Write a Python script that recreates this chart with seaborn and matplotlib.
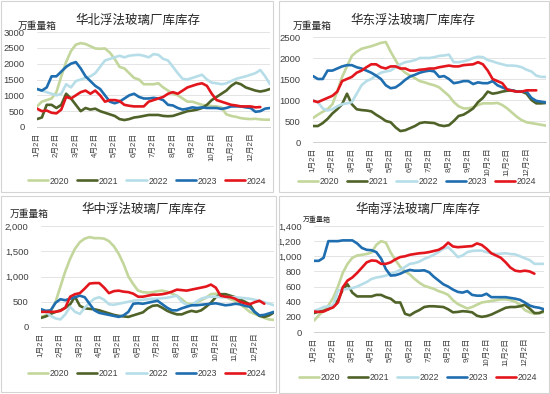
import numpy as np
import pandas as pd
import seaborn as sns
import matplotlib.pyplot as plt
from matplotlib.patches import Rectangle
from matplotlib.ticker import FuncFormatter, MultipleLocator

years = ['2020', '2021', '2022', '2023', '2024']
month_labels = ['{}月2日'.format(i) for i in range(1, 13)]
# readings every quarter month starting at 1月2日 (万重量箱)
steps = np.arange(49) * 0.25

north_2020 = [650, 800, 850, 900, 1100, 1600, 2050, 2400, 2600, 2650, 2620, 2550, 2480, 2470, 2480, 2350,
              2150, 1900, 1850, 1700, 1550, 1500, 1350, 1350, 1350, 1380, 1250, 1150, 1050, 1000, 900, 800,
              800, 750, 700, 680, 660, 650, 620, 400, 350, 320, 280, 260, 250, 260, 240, 230, 230]
north_2021 = [250, 300, 700, 700, 600, 700, 1050, 900, 700, 500, 600, 550, 580, 500, 450, 400,
              350, 250, 220, 250, 300, 320, 350, 380, 380, 380, 350, 340, 350, 400, 450, 500,
              520, 550, 600, 700, 850, 950, 1050, 1150, 1300, 1400, 1350, 1250, 1200, 1150, 1120, 1150, 1200]
north_2022 = [1200, 1150, 1100, 1050, 1000, 1050, 1350, 1250, 1450, 1500, 1550, 1600, 1700, 1900, 2100, 2150,
              2200, 2250, 2200, 2250, 2270, 2280, 2250, 2200, 2300, 2280, 2150, 2100, 1900, 1700, 1520, 1500,
              1550, 1600, 1650, 1500, 1400, 1380, 1350, 1380, 1450, 1520, 1560, 1600, 1650, 1700, 1800, 1600, 1350]
north_2023 = [1200, 1150, 1250, 1600, 1600, 1750, 1900, 2000, 2050, 1850, 1600, 1450, 1300, 1200, 1000, 800,
              750, 800, 900, 1000, 1050, 950, 900, 900, 920, 900, 850, 700, 680, 600, 550, 580,
              620, 600, 620, 600, 600, 600, 570, 600, 650, 650, 650, 620, 600, 480, 500, 580, 600]
north_2024 = [580, 500, 520, 450, 430, 550, 950, 900, 1000, 1100, 1150, 1050, 1150, 1000, 800, 850,
              850, 820, 700, 670, 650, 650, 650, 800, 850, 900, 950, 1050, 1100, 1050, 1150, 1250,
              1300, 1350, 1380, 1300, 1050, 850, 800, 750, 700, 680, 650, 650, 650, 620, 630]

east_2020 = [570, 650, 720, 780, 900, 1200, 1550, 1800, 2050, 2150, 2220, 2250, 2280, 2320, 2360, 2380,
             2150, 1950, 1750, 1650, 1580, 1520, 1450, 1420, 1380, 1350, 1300, 1200, 1100, 950, 850, 800,
             800, 830, 880, 920, 920, 920, 930, 880, 800, 700, 600, 520, 470, 450, 430, 410, 390]
east_2021 = [380, 380, 450, 550, 680, 780, 900, 1150, 900, 780, 760, 750, 730, 650, 580, 500,
             470, 350, 260, 280, 330, 380, 450, 470, 460, 450, 400, 380, 400, 500, 620, 650,
             720, 800, 950, 1050, 1200, 1150, 1170, 1200, 1220, 1230, 1200, 1200, 1150, 1000, 920, 920, 930]
east_2022 = [1000, 950, 800, 750, 780, 850, 900, 920, 950, 1150, 1350, 1450, 1500, 1580, 1650, 1680,
             1700, 1780, 1850, 1900, 1920, 1950, 2000, 2000, 2000, 2020, 2050, 2060, 2080, 1900, 1900, 1920,
             1950, 2000, 2030, 2020, 1950, 1920, 1880, 1850, 1820, 1820, 1810, 1780, 1720, 1680, 1580, 1550, 1550]
east_2023 = [1570, 1500, 1500, 1700, 1700, 1750, 1800, 1830, 1830, 1780, 1750, 1700, 1650, 1580, 1500, 1350,
             1280, 1300, 1380, 1480, 1560, 1600, 1650, 1680, 1700, 1680, 1550, 1570, 1500, 1400, 1420, 1450,
             1450, 1380, 1420, 1400, 1400, 1450, 1350, 1300, 1250, 1230, 1200, 1200, 1200, 1050, 980, 960, 940]
east_2024 = [980, 950, 1000, 1050, 1100, 1200, 1450, 1500, 1550, 1650, 1700, 1780, 1850, 1850, 1780, 1750,
             1800, 1800, 1750, 1750, 1700, 1700, 1720, 1730, 1750, 1750, 1780, 1800, 1820, 1800, 1800, 1830,
             1840, 1850, 1900, 1850, 1700, 1500, 1450, 1400, 1250, 1220, 1200, 1200, 1230, 1230, 1230]

central_2020 = [200, 230, 300, 500, 800, 1100, 1350, 1550, 1680, 1750, 1780, 1760, 1760, 1750, 1700, 1600,
                1450, 1250, 1000, 850, 720, 690, 680, 690, 710, 720, 700, 660, 620, 550, 470, 450,
                480, 530, 580, 650, 660, 640, 600, 550, 520, 450, 380, 300, 260, 220, 180, 150, 140]
central_2021 = [180, 210, 260, 300, 330, 380, 450, 600, 420, 370, 360, 350, 330, 300, 270, 240,
                220, 210, 200, 230, 260, 290, 370, 420, 430, 380, 320, 280, 250, 250, 290, 320,
                300, 330, 400, 480, 590, 650, 650, 620, 590, 550, 500, 450, 300, 220, 200, 230, 290]
central_2022 = [360, 300, 220, 170, 150, 250, 400, 300, 260, 380, 480, 560, 590, 540, 450, 440,
                460, 480, 500, 520, 530, 540, 550, 560, 560, 570, 580, 600, 620, 500, 440, 430,
                500, 560, 590, 600, 600, 590, 590, 590, 590, 580, 570, 560, 540, 520, 490, 460, 430]
central_2023 = [350, 320, 330, 480, 550, 530, 560, 590, 620, 590, 460, 330, 280, 260, 240, 220,
                200, 230, 300, 460, 470, 460, 480, 500, 520, 450, 380, 330, 330, 370, 400, 430,
                430, 440, 450, 460, 470, 450, 430, 440, 460, 450, 420, 400, 300, 230, 240, 270, 300]
central_2024 = [300, 300, 300, 300, 320, 380, 600, 650, 670, 760, 860, 870, 870, 780, 670, 710,
                720, 700, 690, 660, 600, 600, 620, 640, 640, 650, 670, 700, 740, 730, 720, 740,
                760, 780, 800, 840, 780, 620, 600, 590, 560, 500, 470, 450, 490, 520, 460]

south_2020 = [150, 220, 280, 350, 450, 600, 780, 900, 980, 1010, 1020, 1030, 1050, 1150, 1200, 1180,
              1050, 950, 860, 800, 760, 700, 650, 610, 590, 570, 540, 520, 490, 420, 370, 340,
              310, 330, 360, 390, 400, 410, 420, 430, 430, 420, 400, 360, 290, 260, 240, 250, 260]
south_2021 = [250, 270, 280, 300, 350, 420, 560, 630, 520, 470, 470, 470, 470, 490, 490, 460,
              440, 390, 390, 240, 220, 260, 290, 330, 340, 340, 335, 330, 300, 260, 265, 275,
              270, 260, 215, 200, 210, 230, 260, 290, 320, 330, 330, 340, 360, 310, 250, 250, 280]
south_2022 = [280, 300, 330, 340, 350, 550, 560, 570, 580, 600, 630, 660, 700, 720, 730, 745,
              770, 790, 820, 860, 900, 910, 930, 965, 990, 1020, 1055, 1100, 1120, 1060, 990, 1010,
              1055, 1070, 1075, 1075, 1055, 1040, 1030, 1035, 1040, 1030, 1025, 1000, 975, 950, 900, 900, 900]
south_2023 = [940, 940, 980, 1200, 1200, 1200, 1210, 1210, 1210, 1170, 1110, 1085, 1080, 1055, 970, 830,
              745, 750, 770, 800, 820, 810, 810, 815, 790, 730, 680, 630, 600, 560, 530, 520,
              540, 490, 480, 480, 505, 460, 460, 460, 460, 450, 440, 425, 390, 350, 330, 320, 300]
south_2024 = [270, 265, 270, 300, 325, 390, 590, 680, 720, 780, 850, 920, 945, 940, 900, 900,
              920, 960, 990, 1000, 1020, 1030, 1040, 1045, 1055, 1070, 1085, 1120, 1180, 1130, 1120, 1125,
              1130, 1135, 1170, 1150, 1100, 1040, 1010, 980, 920, 850, 810, 800, 810, 800, 770]

colors = {'2020': '#c3d69b', '2021': '#4f6228', '2022': '#b7dee8', '2023': '#1f6eb0', '2024': '#e3161d'}

W, H = 550, 394


def fx(x):
    return x / W


def fy(y):
    return 1 - y / H


def make_frame(series):
    parts = []
    for yr, vals in zip(years, series):
        parts.append(pd.DataFrame({'month': steps[:len(vals)], 'value': vals, 'year': yr}))
    return pd.concat(parts, ignore_index=True)


def draw_panel(fig, box, axbox, title, title_xy, unit_xy, unit_size, series, ymax, ystep, comma, legend_xy):
    fig.patches.append(Rectangle((fx(box[0]), fy(box[3])), fx(box[2] - box[0]), (box[3] - box[1]) / H,
                                 transform=fig.transFigure, fill=False, edgecolor='#d4d4d4', linewidth=0.8))
    left, top, right, bottom = axbox
    ax = fig.add_axes([fx(left), fy(bottom), fx(right - left), (bottom - top) / H])
    df = make_frame(series)
    sns.lineplot(data=df, x='month', y='value', hue='year', hue_order=years, palette=colors,
                 linewidth=1.9, ax=ax, sort=False)
    handles, labels = ax.get_legend_handles_labels()
    ax.get_legend().remove()
    ax.set_xlim(0, 12)
    ax.set_ylim(0, ymax)
    ax.yaxis.set_major_locator(MultipleLocator(ystep))
    if comma:
        ax.yaxis.set_major_formatter(FuncFormatter(lambda v, p: '{:,.0f}'.format(v)))
    else:
        ax.yaxis.set_major_formatter(FuncFormatter(lambda v, p: '{:.0f}'.format(v)))
    ax.set_xticks(range(12))
    ax.set_xticklabels(month_labels, rotation=90)
    ax.tick_params(axis='x', length=2, width=0.6, color='#d0d0d0', pad=2, labelsize=5.6, labelcolor='#404040')
    ax.tick_params(axis='y', length=0, pad=9, labelsize=6.8, colors='#404040')
    ax.set_xlabel('')
    ax.set_ylabel('')
    for side in ['top', 'right', 'left']:
        ax.spines[side].set_visible(False)
    ax.spines['bottom'].set_color('#d0d0d0')
    ax.spines['bottom'].set_linewidth(0.7)
    ax.grid(axis='y', color='#e4e4e4', linewidth=0.7)
    ax.grid(axis='x', visible=False)
    ax.set_axisbelow(True)
    ax.patch.set_alpha(0)
    fig.text(fx(title_xy[0]), fy(title_xy[1]), title, ha='center', va='center', fontsize=9,
             color='#262626', family=['Noto Sans CJK SC', 'DejaVu Sans'])
    fig.text(fx(unit_xy[0]), fy(unit_xy[1]), '万重量箱', ha='left', va='center', fontsize=unit_size,
             color='#262626', family=['Noto Sans CJK SC', 'DejaVu Sans'])
    fig.legend(handles, labels, loc='center', bbox_to_anchor=(fx(legend_xy[0]), fy(legend_xy[1])),
               ncol=5, frameon=False, fontsize=6.3, handlelength=2.3, handletextpad=0.2,
               columnspacing=0.9, borderpad=0.1, labelcolor='#404040')
    return ax


sns.set_style('white')
plt.rcParams['font.family'] = ['Liberation Sans', 'Noto Sans CJK SC', 'DejaVu Sans']

fig = plt.figure(figsize=(5.5, 3.94), dpi=100)

draw_panel(fig, (1, 1, 273, 192), (37, 32, 270, 127), '华北浮法玻璃厂库库存', (138, 20), (18, 26), 7,
           [north_2020, north_2021, north_2022, north_2023, north_2024], 3000, 500, False, (147, 181))
draw_panel(fig, (279, 1, 549, 192), (313, 37, 546, 142), '华东浮法玻璃厂库库存', (413, 20), (293, 26), 7,
           [east_2020, east_2021, east_2022, east_2023, east_2024], 2500, 500, False, (417, 182))
draw_panel(fig, (1, 196, 276, 392), (41, 226, 274, 327), '华中浮法玻璃厂库库存', (144, 209), (10, 214), 7,
           [central_2020, central_2021, central_2022, central_2023, central_2024], 2000, 500, True, (147, 374))
draw_panel(fig, (279, 196, 549, 393), (314, 226, 544, 332), '华南浮法玻璃厂库库存', (418, 209), (303, 220), 5,
           [south_2020, south_2021, south_2022, south_2023, south_2024], 1400, 200, True, (418, 378))

fig.savefig('out.png', dpi=100)
